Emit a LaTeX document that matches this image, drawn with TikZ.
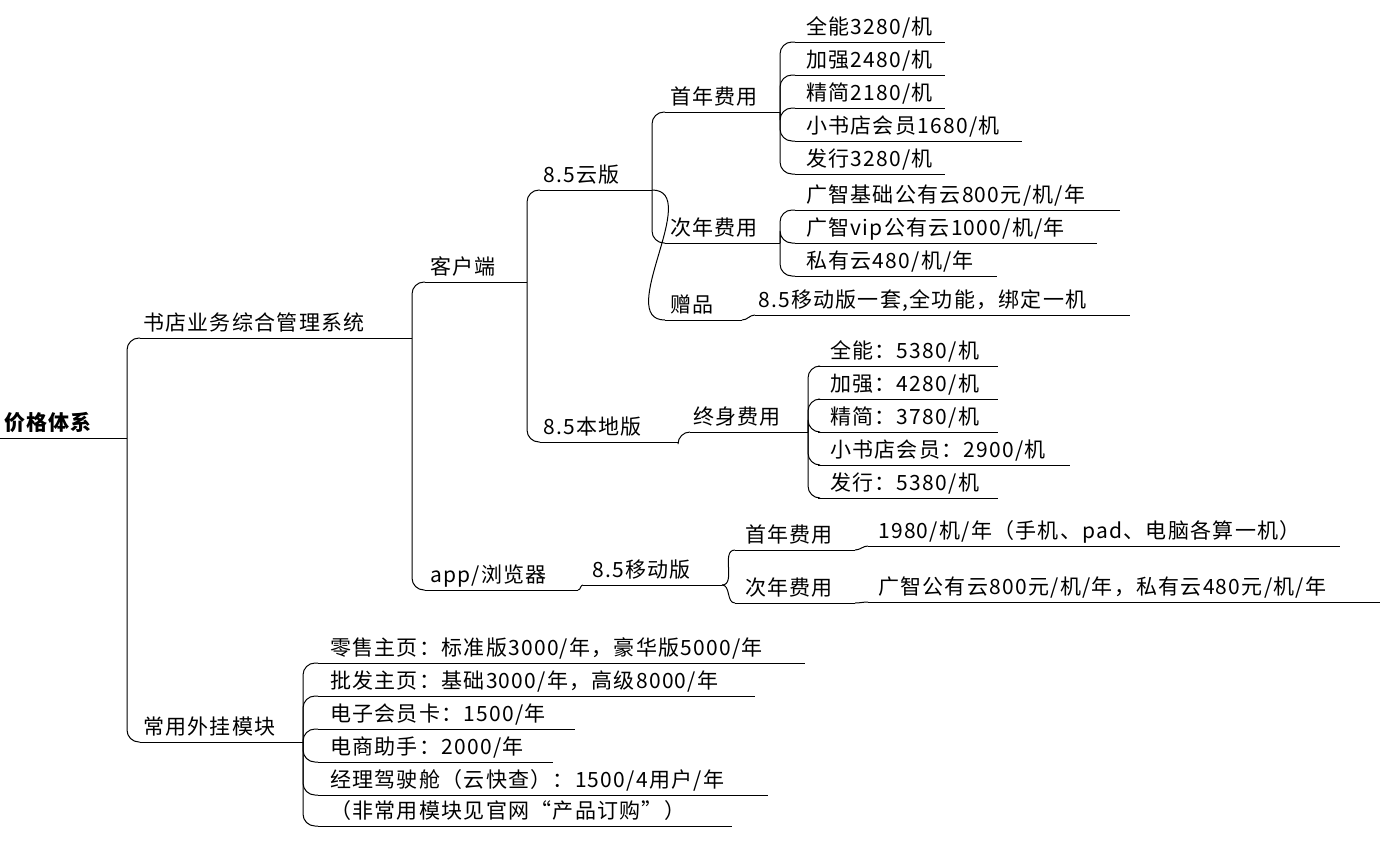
\documentclass[tikz,border=0pt]{standalone}
\usepackage{fontspec}
\setmainfont{Noto Sans CJK SC}[LetterSpace=6]
\tikzset{lbl/.style={inner sep=0pt,font=\fontsize{21}{21}\selectfont},
 ul/.style={line width=1pt},
 con/.style={line width=1pt,rounded corners=12pt}}
\newcommand\mm[6]{\coordinate (#1s) at (#2,#4); \coordinate (#1e) at (#3,#4); \draw[ul] (#1s)--(#1e); \node[lbl,anchor=base west] (#1) at (#5,#4-8) {#6};}
\begin{document}
\begin{tikzpicture}[x=1pt,y=-1pt]
\useasboundingbox (0,0) rectangle (1383,847);
\mm{r}{0}{127}{438}{4}{\bfseries 价格体系}
\mm{a}{140}{412}{338}{143}{书店业务综合管理系统}
\mm{b}{140}{303}{742}{143}{常用外挂模块}
\mm{a1}{425}{527}{282}{430}{客户端}
\mm{a2}{425}{578}{590}{430}{app/浏览器}
\mm{c1}{540}{652}{190}{543}{8.5云版}
\mm{c2}{540}{678}{442}{543}{8.5本地版}
\mm{m}{583}{722}{585}{592}{8.5移动版}
\mm{f1}{665}{780}{112}{670}{首年费用}
\mm{f2}{665}{780}{243}{670}{次年费用}
\mm{f3}{665}{742}{320}{670}{赠品}
\mm{l}{690}{808}{432}{693}{终身费用}
\mm{mf1}{735}{855}{550}{745}{首年费用}
\mm{mf2}{735}{855}{603}{745}{次年费用}
\mm{p1}{795}{945}{42}{806}{全能3280/机}
\mm{p2}{795}{945}{75}{806}{加强2480/机}
\mm{p3}{795}{945}{108}{806}{精简2180/机}
\mm{p4}{795}{1022}{141}{806}{小书店会员1680/机}
\mm{p5}{795}{945}{174}{806}{发行3280/机}
\mm{q1}{795}{1120}{210}{806}{广智基础公有云800元/机/年}
\mm{q2}{795}{1097}{243}{806}{广智vip公有云1000/机/年}
\mm{q3}{795}{997}{276}{806}{私有云480/机/年}
\mm{g}{755}{1130}{315}{758}{8.5移动版一套,全功能，绑定一机}
\mm{s1}{818}{998}{366}{830}{全能：5380/机}
\mm{s2}{818}{998}{399}{830}{加强：4280/机}
\mm{s3}{818}{998}{432}{830}{精简：3780/机}
\mm{s4}{818}{1070}{465}{830}{小书店会员：2900/机}
\mm{s5}{818}{998}{498}{830}{发行：5380/机}
\mm{t1}{868}{1340}{546}{878}{1980/机/年（手机、pad、电脑各算一机）}
\mm{t2}{868}{1380}{602}{878}{广智公有云800元/机/年，私有云480元/机/年}
\mm{u1}{318}{805}{663}{330}{零售主页：标准版3000/年，豪华版5000/年}
\mm{u2}{318}{755}{696}{330}{批发主页：基础3000/年，高级8000/年}
\mm{u3}{318}{575}{729}{330}{电子会员卡：1500/年}
\mm{u4}{318}{553}{762}{330}{电商助手：2000/年}
\mm{u5}{318}{768}{795}{330}{经理驾驶舱（云快查）：1500/4用户/年}
\mm{u6}{318}{732}{826}{330}{（非常用模块见官网“产品订购”）}
\foreach \p/\c in {r/a,r/b,a/a1,a/a2,a1/c1,a1/c2,c1/f1,c1/f2,c2/l,
 f1/p1,f1/p2,f1/p3,f1/p4,f1/p5,f2/q1,f2/q2,f2/q3,l/s1,l/s2,l/s3,l/s4,l/s5,
 b/u1,b/u2,b/u3,b/u4,b/u5,b/u6}
 \draw[con] (\p e) |- (\c s);
\foreach \p/\c in {a2/m,c1/f3,f3/g,m/mf1,m/mf2,mf1/t1,mf2/t2}
 \draw[line width=1pt] (\p e) to[out=0,in=180] (\c s);
\end{tikzpicture}
\end{document}
